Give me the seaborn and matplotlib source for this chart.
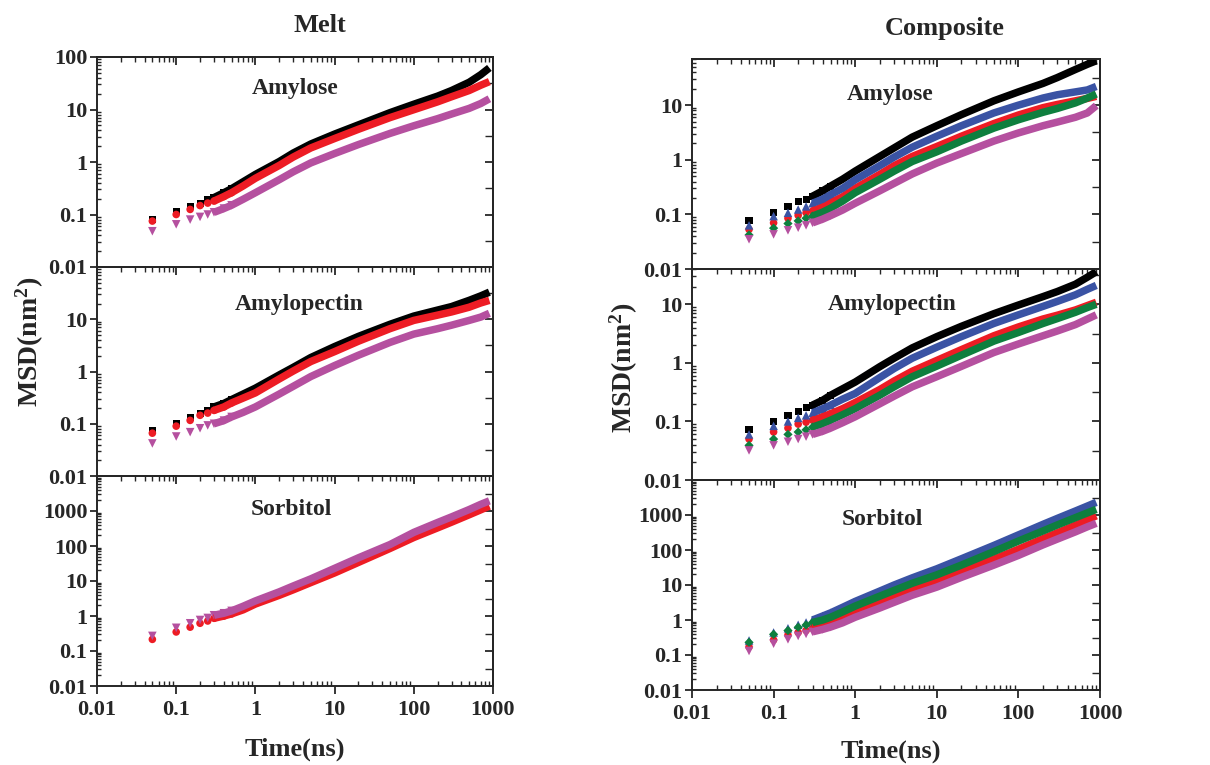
import matplotlib
matplotlib.use("Agg")
import matplotlib.pyplot as plt
import seaborn as sns
import numpy as np
from matplotlib.ticker import LogLocator, FixedLocator, FixedFormatter, NullFormatter

# ---------------- data ----------------
time_ns = [0.05, 0.1, 0.15, 0.2, 0.25, 0.3, 0.4, 0.5, 0.7, 1, 2, 3, 5, 10, 20, 50, 100, 200, 300, 500, 700, 900]

# Melt - Amylose
melt_amylose_black = [0.080, 0.115, 0.140, 0.165, 0.190, 0.210, 0.26, 0.31, 0.42, 0.58, 1.02, 1.48, 2.2, 3.4, 5.1, 8.7, 12.6, 18, 23, 33, 46, 62]
melt_amylose_red = [0.075, 0.100, 0.125, 0.148, 0.165, 0.180, 0.22, 0.26, 0.35, 0.49, 0.86, 1.24, 1.85, 2.8, 4.2, 7.0, 9.9, 14, 17.5, 23, 29, 34]
melt_amylose_magenta = [0.048, 0.065, 0.080, 0.090, 0.100, 0.110, 0.13, 0.15, 0.195, 0.26, 0.46, 0.65, 0.96, 1.45, 2.15, 3.5, 4.9, 6.7, 8.2, 10.5, 13, 16]

# Melt - Amylopectin
melt_amylopectin_black = [0.074, 0.103, 0.130, 0.156, 0.180, 0.210, 0.245, 0.29, 0.37, 0.48, 0.86, 1.2, 1.85, 3.0, 4.7, 8.0, 11.5, 15, 17.5, 23, 28, 33]
melt_amylopectin_red = [0.066, 0.090, 0.116, 0.145, 0.160, 0.180, 0.21, 0.25, 0.31, 0.39, 0.72, 1.02, 1.55, 2.4, 3.8, 6.6, 9.5, 12, 13.8, 17, 20.5, 23]
melt_amylopectin_magenta = [0.042, 0.057, 0.069, 0.082, 0.093, 0.100, 0.115, 0.135, 0.165, 0.21, 0.37, 0.52, 0.80, 1.3, 2.05, 3.6, 5.2, 6.6, 7.7, 9.5, 11, 13]

# Melt - Sorbitol
melt_sorbitol_red = [0.215, 0.35, 0.48, 0.62, 0.72, 0.86, 1.0, 1.15, 1.5, 2.2, 3.9, 5.6, 9.0, 17, 34, 85, 175, 330, 480, 780, 1080, 1380]
melt_sorbitol_magenta = [0.27, 0.46, 0.62, 0.77, 0.88, 1.05, 1.2, 1.4, 1.9, 2.7, 4.9, 7.2, 11.5, 23, 46, 110, 245, 470, 680, 1100, 1550, 1950]

# Composite - Amylose
comp_amylose_black = [0.078, 0.110, 0.140, 0.170, 0.190, 0.215, 0.27, 0.33, 0.44, 0.62, 1.15, 1.65, 2.6, 4.2, 6.7, 12, 17.5, 25, 32, 45, 56, 65]
comp_amylose_red = [0.053, 0.070, 0.085, 0.096, 0.107, 0.115, 0.14, 0.165, 0.21, 0.30, 0.54, 0.78, 1.15, 1.75, 2.7, 4.6, 6.6, 9.0, 10.3, 12, 13.3, 14.5]
comp_amylose_blue = [0.063, 0.093, 0.107, 0.123, 0.140, 0.160, 0.19, 0.23, 0.30, 0.43, 0.78, 1.12, 1.7, 2.7, 4.2, 7.2, 10, 13.5, 15.5, 17.5, 19, 22]
comp_amylose_green = [0.042, 0.056, 0.068, 0.076, 0.085, 0.093, 0.11, 0.13, 0.175, 0.25, 0.44, 0.62, 0.93, 1.4, 2.2, 3.8, 5.4, 7.4, 8.7, 11, 13.5, 16]
comp_amylose_magenta = [0.035, 0.043, 0.051, 0.057, 0.063, 0.070, 0.082, 0.095, 0.12, 0.16, 0.27, 0.37, 0.55, 0.87, 1.3, 2.2, 3.1, 4.2, 4.9, 6.0, 7.2, 9.8]

# Composite - Amylopectin
comp_amylopectin_black = [0.072, 0.100, 0.127, 0.150, 0.170, 0.190, 0.23, 0.28, 0.36, 0.47, 0.86, 1.2, 1.8, 2.8, 4.2, 6.9, 9.7, 13.5, 16.5, 22, 29, 36]
comp_amylopectin_red = [0.050, 0.066, 0.077, 0.090, 0.097, 0.105, 0.12, 0.135, 0.165, 0.21, 0.35, 0.49, 0.72, 1.1, 1.68, 2.9, 4.1, 5.6, 6.5, 8.0, 9.5, 10.8]
comp_amylopectin_blue = [0.060, 0.084, 0.100, 0.115, 0.127, 0.140, 0.165, 0.19, 0.24, 0.30, 0.56, 0.80, 1.2, 1.85, 2.8, 4.7, 6.6, 9.2, 11.2, 14.5, 18, 21]
comp_amylopectin_green = [0.039, 0.050, 0.060, 0.066, 0.072, 0.080, 0.092, 0.105, 0.13, 0.165, 0.28, 0.39, 0.58, 0.88, 1.35, 2.35, 3.3, 4.7, 5.7, 7.3, 8.8, 10]
comp_amylopectin_magenta = [0.032, 0.039, 0.045, 0.050, 0.055, 0.060, 0.068, 0.077, 0.095, 0.12, 0.20, 0.27, 0.39, 0.58, 0.87, 1.5, 2.1, 2.9, 3.5, 4.5, 5.6, 6.6]

# Composite - Sorbitol
comp_sorbitol_red = [0.17, 0.27, 0.37, 0.44, 0.50, 0.58, 0.70, 0.82, 1.1, 1.7, 3.2, 4.7, 7.4, 12.5, 24, 55, 105, 210, 310, 510, 720, 950]
comp_sorbitol_blue = [0.26, 0.44, 0.58, 0.73, 0.85, 1.00, 1.3, 1.6, 2.3, 3.4, 6.7, 10, 16, 29, 56, 135, 270, 540, 800, 1300, 1800, 2300]
comp_sorbitol_green = [0.23, 0.39, 0.50, 0.62, 0.72, 0.85, 1.0, 1.2, 1.7, 2.5, 4.8, 7.0, 11.2, 19.5, 37, 90, 180, 350, 520, 840, 1150, 1450]
comp_sorbitol_magenta = [0.13, 0.21, 0.28, 0.35, 0.40, 0.46, 0.54, 0.63, 0.83, 1.2, 2.2, 3.2, 5.1, 8.7, 16.5, 37, 70, 140, 205, 330, 460, 580]

x_tick_values = [0.01, 0.1, 1, 10, 100, 1000]
x_tick_labels = ["0.01", "0.1", "1", "10", "100", "1000"]
panel_names = ["Amylose", "Amylopectin", "Sorbitol"]

# ---------------- style ----------------
sns.set_style("ticks")
plt.rcParams["font.family"] = ["Liberation Serif", "DejaVu Serif"]
plt.rcParams["font.weight"] = "bold"
plt.rcParams["mathtext.fontset"] = "custom"
plt.rcParams["mathtext.rm"] = "Liberation Serif:bold"
plt.rcParams["mathtext.bf"] = "Liberation Serif:bold"
plt.rcParams["mathtext.it"] = "Liberation Serif:bold"

STY = {
    "black":   dict(color="#000000", marker="s", s=26),
    "red":     dict(color="#ed1c24", marker="o", s=30),
    "blue":    dict(color="#3a53a4", marker="^", s=38),
    "green":   dict(color="#0e7f3e", marker="D", s=22),
    "magenta": dict(color="#b5509f", marker="v", s=38),
}

fig = plt.figure(figsize=(12.1, 7.65), dpi=100)
W, H = 1210, 765


def make_ax(x0, x1, y0, y1):
    return fig.add_axes([x0 / W, 1 - y1 / H, (x1 - x0) / W, (y1 - y0) / H])


left_rows = [(57, 267), (267, 476), (476, 686)]
right_rows = [(59, 269), (269, 480), (480, 690)]
left_x = (97, 493)
right_x = (692, 1100)

melt_panels = [
    [("black", melt_amylose_black), ("red", melt_amylose_red), ("magenta", melt_amylose_magenta)],
    [("black", melt_amylopectin_black), ("red", melt_amylopectin_red), ("magenta", melt_amylopectin_magenta)],
    [("red", melt_sorbitol_red), ("magenta", melt_sorbitol_magenta)],
]
comp_panels = [
    [("black", comp_amylose_black), ("red", comp_amylose_red), ("blue", comp_amylose_blue),
     ("green", comp_amylose_green), ("magenta", comp_amylose_magenta)],
    [("black", comp_amylopectin_black), ("red", comp_amylopectin_red), ("blue", comp_amylopectin_blue),
     ("green", comp_amylopectin_green), ("magenta", comp_amylopectin_magenta)],
    [("red", comp_sorbitol_red), ("blue", comp_sorbitol_blue),
     ("green", comp_sorbitol_green), ("magenta", comp_sorbitol_magenta)],
]

left_ylims = [(0.01, 100), (0.01, 100), (0.01, 1e4)]
right_ylims = [(0.01, 70), (0.01, 40), (0.01, 1e4)]
left_yticks = [[0.01, 0.1, 1, 10, 100], [0.01, 0.1, 1, 10], [0.01, 0.1, 1, 10, 100, 1000]]
right_yticks = [[0.01, 0.1, 1, 10], [0.01, 0.1, 1, 10], [0.01, 0.1, 1, 10, 100, 1000]]
left_label_pos = [(0.50, 0.85), (0.51, 0.82), (0.49, 0.84)]
right_label_pos = [(0.485, 0.83), (0.49, 0.83), (0.466, 0.81)]

t = np.array(time_ns)
n_marker = 8    # separate markers at the short-time end
band_start = 5  # dense band from 0.3 ns onward

TICK_FS = 16


def fmt(v):
    return ("%g" % v) if v < 1 else str(int(v))


def draw_panel(ax, series, ylim, yticks, bottom, name, lpos):
    for key, vals in series:
        st = STY[key]
        v = np.array(vals)
        sns.lineplot(x=t[band_start:], y=v[band_start:], ax=ax, color=st["color"],
                     lw=5.4, solid_capstyle="butt", solid_joinstyle="round", errorbar=None, sort=True)
        sns.scatterplot(x=t[:n_marker], y=v[:n_marker], ax=ax, color=st["color"],
                        marker=st["marker"], s=st["s"], edgecolor="none", linewidth=0)
    ax.set_xscale("log")
    ax.set_yscale("log")
    ax.set_xlim(0.01, 1000)
    ax.set_ylim(*ylim)
    ax.set_xlabel("")
    ax.set_ylabel("")
    for sp in ax.spines.values():
        sp.set_visible(True)
        sp.set_linewidth(1.4)
    ax.yaxis.set_major_locator(FixedLocator(yticks))
    ax.yaxis.set_major_formatter(FixedFormatter([fmt(v) for v in yticks]))
    ax.yaxis.set_minor_locator(LogLocator(base=10, subs=np.arange(2, 10), numticks=20))
    ax.yaxis.set_minor_formatter(NullFormatter())
    ax.tick_params(axis="y", which="major", direction="out", length=5, width=1.3,
                   left=True, right=False, labelsize=TICK_FS, pad=2)
    ax.tick_params(axis="y", which="minor", direction="in", length=3, width=1.0,
                   left=True, right=False)
    ax.xaxis.set_major_locator(FixedLocator(x_tick_values))
    ax.xaxis.set_minor_locator(LogLocator(base=10, subs=np.arange(2, 10), numticks=20))
    ax.xaxis.set_minor_formatter(NullFormatter())
    if bottom:
        ax.xaxis.set_major_formatter(FixedFormatter(x_tick_labels))
        ax.tick_params(axis="x", which="major", direction="out", length=6, width=1.3,
                       bottom=True, top=False, labelsize=TICK_FS, pad=4)
        ax.tick_params(axis="x", which="minor", direction="in", length=3.5, width=1.0,
                       bottom=True, top=False)
    else:
        ax.tick_params(axis="x", which="both", bottom=False, top=False, labelbottom=False)
    sec = ax.secondary_xaxis("top")
    sec.xaxis.set_major_locator(FixedLocator(x_tick_values))
    sec.xaxis.set_minor_locator(LogLocator(base=10, subs=np.arange(2, 10), numticks=20))
    sec.xaxis.set_minor_formatter(NullFormatter())
    sec.tick_params(axis="x", which="major", direction="in", length=6, width=1.3, labeltop=False)
    sec.tick_params(axis="x", which="minor", direction="in", length=3.5, width=1.0)
    sec.spines["top"].set_linewidth(1.4)
    secy = ax.secondary_yaxis("right")
    secy.yaxis.set_major_locator(FixedLocator([v for v in [0.01, 0.1, 1, 10, 100, 1000, 1e4] if ylim[0] <= v <= ylim[1]]))
    secy.yaxis.set_minor_locator(FixedLocator([v * 3.16 for v in [0.01, 0.1, 1, 10, 100, 1000] if ylim[0] <= v * 3.16 <= ylim[1]]))
    secy.yaxis.set_minor_formatter(NullFormatter())
    secy.tick_params(axis="y", which="major", direction="in", length=6, width=1.3, labelright=False)
    secy.tick_params(axis="y", which="minor", direction="in", length=6, width=1.0)
    secy.spines["right"].set_linewidth(1.4)
    ax.text(lpos[0], lpos[1], name, transform=ax.transAxes, ha="center", va="center",
            fontsize=17, fontweight="bold")


for i in range(3):
    axl = make_ax(left_x[0], left_x[1], *left_rows[i])
    draw_panel(axl, melt_panels[i], left_ylims[i], left_yticks[i], i == 2, panel_names[i], left_label_pos[i])
    axr = make_ax(right_x[0], right_x[1], *right_rows[i])
    draw_panel(axr, comp_panels[i], right_ylims[i], right_yticks[i], i == 2, panel_names[i], right_label_pos[i])

fig.text(320 / W, 1 - 25 / H, "Melt", ha="center", va="center", fontsize=19, fontweight="bold")
fig.text(945 / W, 1 - 28 / H, "Composite", ha="center", va="center", fontsize=19, fontweight="bold")
fig.text(295 / W, 1 - 749 / H, "Time(ns)", ha="center", va="center", fontsize=19, fontweight="bold")
fig.text(891 / W, 1 - 751 / H, "Time(ns)", ha="center", va="center", fontsize=19, fontweight="bold")
fig.text(30 / W, 1 - 342 / H, r"MSD(nm$^{\mathbf{2}}$)", rotation=90, ha="center", va="center",
         fontsize=20, fontweight="bold")
fig.text(624 / W, 1 - 368 / H, r"MSD(nm$^{2}$)", rotation=90, ha="center", va="center",
         fontsize=20, fontweight="bold")

fig.savefig("out.png", dpi=100)
